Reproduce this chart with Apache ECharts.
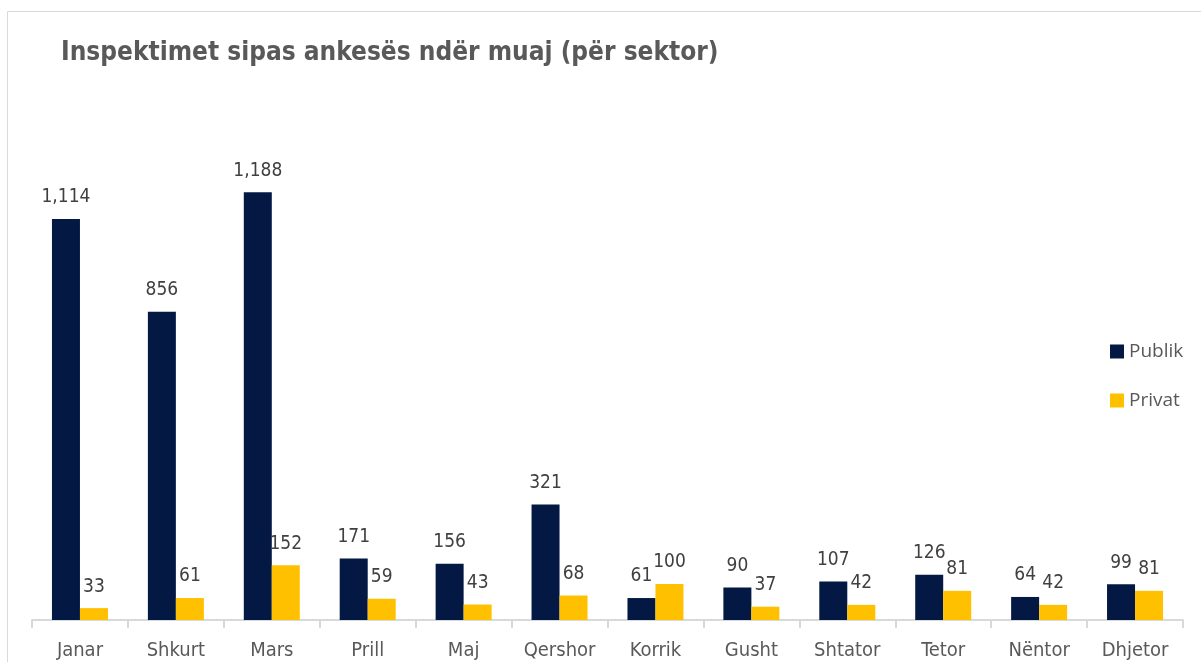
<!DOCTYPE html>
<html>
<head>
<meta charset="utf-8">
<script src="https://cdn.jsdelivr.net/npm/echarts@6/dist/echarts.min.js"></script>
<style>
  html, body { margin: 0; padding: 0; background: #fff; }
  #chart { width: 1201px; height: 662px; }
</style>
</head>
<body>
<div id="chart"></div>
<script>
// muajt
var muajt = ['Janar', 'Shkurt', 'Mars', 'Prill', 'Maj', 'Qershor', 'Korrik', 'Gusht', 'Shtator', 'Tetor', 'Nëntor', 'Dhjetor'];
// inspektimet sipas sektorit
var publik = [1114, 856, 1188, 171, 156, 321, 61, 90, 107, 126, 64, 99];
var privat = [33, 61, 152, 59, 43, 68, 100, 37, 42, 81, 42, 81];

var narrow = "'DejaVu Sans Condensed', 'Liberation Sans Narrow', sans-serif";

var labelStyle = {
  show: true,
  position: 'top',
  distance: 12,
  color: '#404040',
  fontSize: 19,
  fontFamily: narrow,
  formatter: function (p) {
    return p.value.toLocaleString('en-US');
  }
};

var myChart = echarts.init(document.getElementById('chart'));
var option = {
  animation: false,
  backgroundColor: '#fff',
  title: {
    text: 'Inspektimet sipas ankesës ndër muaj (për sektor)',
    left: 56,
    top: 35,
    textStyle: {
      color: '#595959',
      fontSize: 26,
      fontWeight: 'bold',
      fontFamily: narrow
    }
  },
  graphic: [{
    type: 'rect',
    shape: { x: 7.5, y: 11.5, width: 1300, height: 700 },
    style: { fill: 'none', stroke: '#d9d9d9', lineWidth: 1 },
    silent: true
  }],
  legend: {
    orient: 'vertical',
    left: 1105,
    top: 337,
    itemWidth: 14,
    itemHeight: 14,
    itemGap: 30,
    icon: 'rect',
    textStyle: {
      color: '#595959',
      fontSize: 19,
      fontFamily: "'Open Sans', 'Noto Sans', sans-serif"
    },
    data: ['Publik', 'Privat']
  },
  grid: {
    left: 32,
    right: 18,
    top: 116,
    bottom: 42
  },
  xAxis: {
    type: 'category',
    data: muajt,
    axisLine: { lineStyle: { color: '#d9d9d9', width: 2 } },
    axisTick: { show: true, interval: 0, length: 8, lineStyle: { color: '#d9d9d9', width: 2 } },
    axisLabel: {
      interval: 0,
      color: '#595959',
      fontSize: 20,
      fontFamily: narrow,
      margin: 21
    }
  },
  yAxis: {
    type: 'value',
    min: 0,
    max: 1400,
    show: false,
    splitLine: { show: false }
  },
  series: [{
    name: 'Publik',
    type: 'bar',
    data: publik,
    barWidth: 28,
    barGap: '0%',
    itemStyle: { color: '#031843' },
    label: labelStyle
  }, {
    name: 'Privat',
    type: 'bar',
    data: privat,
    barWidth: 28,
    itemStyle: { color: '#FFC000' },
    label: labelStyle
  }]
};
myChart.setOption(option);
</script>
</body>
</html>
